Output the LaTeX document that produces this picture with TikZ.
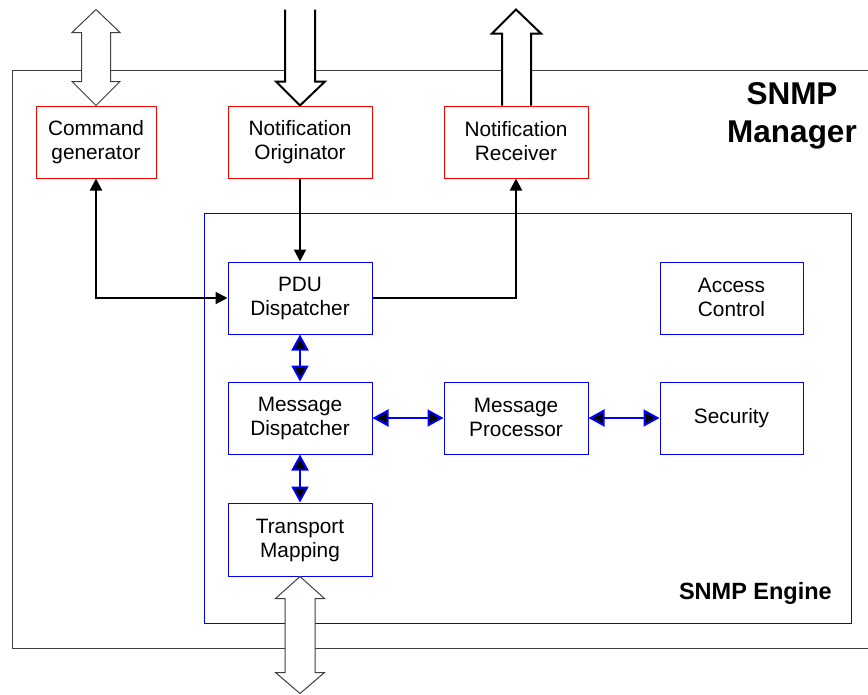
\documentclass[tikz,border=0pt]{standalone}
\usepackage{fontspec}
\setmainfont{Liberation Sans}
\usetikzlibrary{arrows.meta,calc}

\definecolor{framegrey}{RGB}{64,64,64}
% fixed line strut so every box sets its baselines alike
\newcommand{\ls}{\rule[-4pt]{0pt}{20pt}}

\tikzset{
  box/.style={draw, line width=1pt, inner sep=0pt, align=center,
    font=\fontsize{20.8}{24}\selectfont},
  appbox/.style={box, draw=red},
  engbox/.style={box, draw=blue},
  flow/.style={line width=2pt, black, -{Triangle[length=12pt,width=12pt]}},
  link/.style={line width=2pt, blue,
    {Triangle[length=16pt,width=17pt,fill=black]}-{Triangle[length=16pt,width=17pt,fill=black]}},
  hollow/.style={draw=framegrey, fill=white, line width=1pt, line join=miter},
  hollowbold/.style={draw=black, line width=2pt, line join=miter},
}

\begin{document}
\begin{tikzpicture}[x=1pt,y=-1pt]
\useasboundingbox (0,0) rectangle (868,694);

% SNMP manager frame (open on the right side)
\draw[framegrey, line width=1pt] (868,70) -- (12,70) -- (12,648) -- (868,648);

% SNMP engine frame
\node[draw=blue, line width=1pt, minimum width=647pt, minimum height=410pt,
      inner sep=0pt, anchor=north west] (engine) at (204,213) {};

% application boxes
\node[appbox, minimum width=120pt, minimum height=72pt] (cmd) at (96,142) {\ls Command\\\ls generator};
\node[appbox, minimum width=144pt, minimum height=72pt] (orig) at (300,142) {\ls Notification\\\ls Originator};
\node[appbox, minimum width=144pt, minimum height=72pt] (recv) at (516,142) {\ls Notification\\\ls Receiver};

% engine subsystems
\node[engbox, minimum width=144pt, minimum height=72pt] (pdu) at (300,298) {\ls PDU\\\ls Dispatcher};
\node[engbox, minimum width=143pt, minimum height=72pt] (acc) at (731.5,298) {\ls Access\\\ls Control};
\node[engbox, minimum width=144pt, minimum height=72pt] (mdisp) at (300,418) {\ls Message\\\ls Dispatcher};
\node[engbox, minimum width=144pt, minimum height=72pt] (mproc) at (516,418) {\ls Message\\\ls Processor};
\node[engbox, minimum width=143pt, minimum height=72pt] (sec) at (731.5,418) {\ls Security};
\node[engbox, minimum width=144pt, minimum height=73pt] (tm) at (300,539.5) {\ls Transport\\\ls Mapping};

% titles
\node[anchor=north, inner sep=0pt, align=center,
      font=\fontsize{31.5}{38}\selectfont\bfseries] (mgrtitle) at (792,82) {SNMP\\Manager};
\node[anchor=base east, inner sep=0pt,
      font=\fontsize{23.5}{28}\selectfont\bfseries] (engtitle) at (832,599) {SNMP Engine};

% external interfaces (hollow block arrows)
\path[hollow, shift={(cmd.north)}]
  (0,-96) -- (24,-73) -- (14.5,-73) -- (14.5,-24) -- (24,-24) -- (0,0)
  -- (-24,-24) -- (-14.5,-24) -- (-14.5,-73) -- (-24,-73) -- cycle;
\fill[white, shift={(orig.north)}]
  (-15,-96) -- (-15,-24) -- (-24,-24) -- (0,0) -- (25,-24) -- (15,-24) -- (15,-96) -- cycle;
\draw[hollowbold, shift={(orig.north)}]
  (-15,-96) -- (-15,-24) -- (-24,-24) -- (0,0) -- (25,-24) -- (15,-24) -- (15,-96);
\fill[white, shift={(recv.north)}]
  (-14,0) -- (-14,-72) -- (-24,-72) -- (0,-96) -- (25,-72) -- (15,-72) -- (15,0) -- cycle;
\draw[hollowbold, shift={(recv.north)}]
  (-14,0) -- (-14,-72) -- (-24,-72) -- (0,-96) -- (25,-72) -- (15,-72) -- (15,0);
\path[hollow, shift={(tm.south)}]
  (0,0) -- (24.5,22) -- (15,22) -- (15,96) -- (24.5,96) -- (0,117)
  -- (-24.5,96) -- (-15,96) -- (-15,22) -- (-24.5,22) -- cycle;

% PDU flows
\draw[flow, {Triangle[length=12pt,width=12pt]}-{Triangle[length=12pt,width=12pt]}]
  (cmd.south) |- (pdu.west);
\draw[flow] (orig.south) -- (pdu.north);
\draw[flow] (pdu.east) -| (recv.south);

% engine internal links
\draw[link] (pdu.south) -- (mdisp.north);
\draw[link] (mdisp.east) -- (mproc.west);
\draw[link] (mproc.east) -- (sec.west);
\draw[link] (mdisp.south) -- (tm.north);
\end{tikzpicture}
\end{document}
